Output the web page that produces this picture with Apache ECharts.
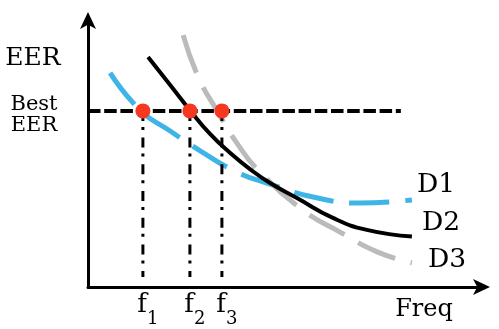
<!DOCTYPE html>
<html><head><meta charset="utf-8">
<script src="https://cdn.jsdelivr.net/npm/echarts@6/dist/echarts.min.js"></script>
<style>html,body{margin:0;padding:0;background:#fff}#c{width:499px;height:329px}</style>
</head><body><div id="c"></div>
<script>
// Curve data (conceptual units: frequency 0-100, EER 0-100)
const d1X = [5.6, 13.2, 20.8, 28.4, 37.7, 45.3, 57.0, 68.9, 82.0];
const d1Y = [79.9, 66.0, 58.2, 50.8, 42.9, 38.8, 33.6, 31.3, 32.5];
const d2X = [15.2, 20.8, 25.8, 30.9, 36.0, 41.0, 46.1, 52.9, 62.0, 70.6, 82.0];
const d2Y = [85.8, 75.4, 66.0, 57.1, 50.0, 44.0, 38.8, 33.2, 25.8, 21.3, 18.8];
const d3X = [24.1, 27.9, 32.7, 37.7, 43.5, 54.4, 63.8, 73.2, 82.0];
const d3Y = [94.0, 78.4, 65.7, 53.7, 42.9, 28.7, 20.5, 13.1, 9.0];
const seriesNames = ['D1', 'D2', 'D3'];
const bestEER = 65.7;
const bestLineEnd = 79.2;
const fValues = [13.9, 25.8, 33.9];
const fSubs = ['1', '2', '3'];
const vLineBottom = 3.7;
const yAxisTitle = 'EER';
const bestLabel = ['Best', 'EER'];
const xAxisTitle = 'Freq';

const zip = (xs, ys) => xs.map((x, i) => [x, ys[i]]);
const serif = 'DejaVu Serif';

const chart = echarts.init(document.getElementById('c'), null, {renderer: 'canvas'});
const axisCommon = {
  type: 'value', min: 0, max: 100,
  axisLine: {show: true, symbol: ['none', 'arrow'], symbolSize: [12, 17], symbolOffset: [0, 7],
    lineStyle: {color: '#000', width: 3}},
  axisTick: {show: false}, axisLabel: {show: false}, splitLine: {show: false}
};
const endLbl = (name, off) => ({show: true, formatter: name, offset: off, distance: 5,
  fontFamily: serif, fontSize: 26.5, color: '#000'});
const curve = {type: 'line', smooth: 0.5, showSymbol: false};

const series = [
  Object.assign({name: seriesNames[0], z: 2, data: zip(d1X, d1Y),
   lineStyle: {color: '#3eb5e6', width: 5, type: [40, 16]},
   endLabel: endLbl(seriesNames[0], [0, -15])}, curve),
  Object.assign({name: seriesNames[2], z: 3, data: zip(d3X, d3Y),
   lineStyle: {color: '#bbbbbb', width: 5, type: [40, 16]},
   endLabel: endLbl(seriesNames[2], [11, -3])}, curve),
  {name: 'best', type: 'line', showSymbol: false, z: 4,
   data: [[0, bestEER], [bestLineEnd, bestEER]],
   lineStyle: {color: '#000', width: 4, type: [12.5, 3.7]}},
  Object.assign({name: seriesNames[1], z: 5, data: zip(d2X, d2Y),
   lineStyle: {color: '#000', width: 4},
   endLabel: endLbl(seriesNames[1], [5, -14])}, curve)
];
fValues.forEach((f, i) => {
  series.push({name: 'v' + i, type: 'line', showSymbol: false, z: 6,
    data: [[f, bestEER], [f, vLineBottom]],
    lineStyle: {color: '#000', width: 3, type: [10, 6, 3, 7.7]}});
});
series.push({name: 'dots', type: 'scatter', z: 10, symbolSize: 15,
  itemStyle: {color: '#f5381f', opacity: 1},
  data: fValues.map(f => [f, bestEER])});
series.push({name: 'flabels', type: 'scatter', z: 10, symbolSize: 0,
  itemStyle: {opacity: 1},
  data: fValues.map(f => [f, 0]),
  label: {show: true, position: 'bottom', distance: 0, offset: [5, -5],
    formatter: p => 'f{s|' + fSubs[p.dataIndex] + '}',
    fontFamily: serif, fontSize: 26, lineHeight: 46, color: '#000',
    rich: {s: {fontFamily: serif, fontSize: 18, lineHeight: 18, verticalAlign: 'bottom', color: '#000'}}}});

chart.setOption({
  animation: false,
  backgroundColor: '#fff',
  grid: {left: 88, right: 16, top: 19, bottom: 42, containLabel: false},
  xAxis: axisCommon,
  yAxis: axisCommon,
  series: series,
  graphic: [
    {type: 'text', x: 33, y: 58.5, style: {text: yAxisTitle, fontFamily: serif, fontSize: 25, fill: '#000', align: 'center', verticalAlign: 'middle'}},
    {type: 'text', x: 34, y: 104.7, style: {text: bestLabel[0], fontFamily: serif, fontSize: 21, fontWeight: 500, fill: '#000', align: 'center', verticalAlign: 'middle'}},
    {type: 'text', x: 34, y: 125.7, style: {text: bestLabel[1], fontFamily: serif, fontSize: 21, fontWeight: 500, fill: '#000', align: 'center', verticalAlign: 'middle'}},
    {type: 'text', x: 424, y: 309.7, style: {text: xAxisTitle, fontFamily: serif, fontSize: 24, fill: '#000', align: 'center', verticalAlign: 'middle'}}
  ]
});
</script></body></html>
